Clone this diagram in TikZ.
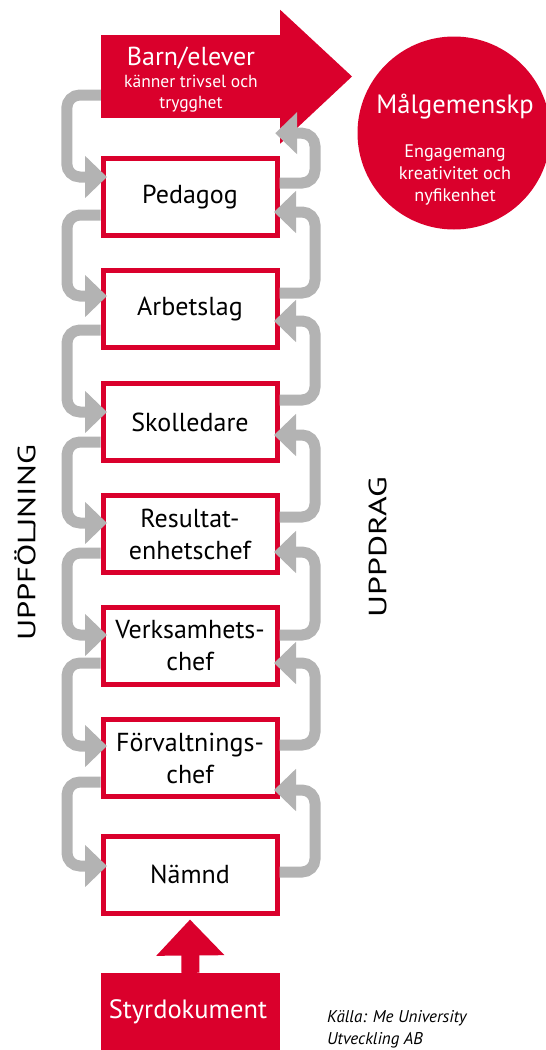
\documentclass[tikz,border=0pt]{standalone}
\usepackage{fontspec}
\setmainfont{PT Sans}
\usetikzlibrary{calc,arrows.meta}
\definecolor{kred}{RGB}{218,0,44}
\definecolor{kgray}{RGB}{179,179,179}
\tikzset{
  box/.style={draw=kred, line width=5pt, fill=white, minimum width=174pt, minimum height=77pt,
    align=center, font=\fontsize{26}{32}\selectfont, inner sep=0pt},
  conn/.style={draw=kgray, line width=11pt, rounded corners=13pt,
    -{Triangle[length=22pt,width=41pt]}},
  side/.style={rotate=90, font=\fontsize{25}{25}\selectfont, inner sep=0pt},
  wtxt/.style={text=white, anchor=base, inner sep=0pt},
}
\begin{document}
\begin{tikzpicture}[x=1pt,y=-1pt]
\useasboundingbox (0,0) rectangle (546,1050);
% top red arrow
\node[fill=kred, minimum width=179pt, minimum height=83pt, inner sep=0pt] (barn) at (190.5,76.5) {};
\fill[kred] ($(barn.north east)+(0,-25)$) -- (352,76.5) -- ($(barn.south east)+(0,25.5)$) -- cycle;
\node[wtxt, font=\fontsize{26}{26}\selectfont] (barn1) at (191,65.5) {Barn/elever};
\node[wtxt, font=\fontsize{17.5}{22}\selectfont] (barn2) at (191,87) {känner trivsel och};
\node[wtxt, font=\fontsize{17.5}{22}\selectfont] (barn3) at (191,108.5) {trygghet};
\coordinate (barnin) at ($(barn.south east)+(-5,15)$);
% circle
\node[circle, fill=kred, minimum size=193pt, inner sep=0pt] (mal) at (454,133) {};
\node[text=white, font=\fontsize{26.5}{26}\selectfont, inner sep=0pt] (maltxt) at (455,107) {Målgemenskp};
\node[text=white, align=center, font=\fontsize{18.2}{22}\selectfont, inner sep=0pt] (maltxt2) at (455,175) {Engagemang\\kreativitet och\\nyfikenhet};
% boxes
\node[box] (b1) at (190,197) {Pedagog};
\node[box] (b2) at (190,309) {Arbetslag};
\node[box] (b3) at (190,422) {Skolledare};
\node[box] (b4) at (190,534) {Resultat-\\enhetschef};
\node[box] (b5) at (190,646) {Verksamhets-\\chef};
\node[box] (b6) at (190,758) {Förvaltnings-\\chef};
\node[box] (b7) at (190,874.5) {Nämnd};
% left connectors (UPPFÖLJNING)
\draw[conn] ($(barn.west)+(0,18.5)$) -- ($(barn.west)+(-34,18.5)$) |- ($(b1.west)+(6.5,-20)$);
\draw[conn] ($(b1.west)+(0,18)$) -- ($(b1.west)+(-33.5,18)$) |- ($(b2.west)+(6.5,-13)$);
\draw[conn] ($(b2.west)+(0,21)$) -- ($(b2.west)+(-33.5,21)$) |- ($(b3.west)+(6.5,-10)$);
\draw[conn] ($(b3.west)+(0,20)$) -- ($(b3.west)+(-33.5,20)$) |- ($(b4.west)+(6.5,-11)$);
\draw[conn] ($(b4.west)+(0,19)$) -- ($(b4.west)+(-33.5,19)$) |- ($(b5.west)+(6.5,-11)$);
\draw[conn] ($(b5.west)+(0,17)$) -- ($(b5.west)+(-33.5,17)$) |- ($(b6.west)+(6.5,-12)$);
\draw[conn] ($(b6.west)+(0,24)$) -- ($(b6.west)+(-33.5,24)$) |- ($(b7.west)+(6.5,-8.5)$);
% right connectors (UPPDRAG)
\draw[conn] ($(b1.east)+(0,-14)$) -- ($(b1.east)+(35.5,-14)$) |- (barnin);
\draw[conn] ($(b2.east)+(0,-16)$) -- ($(b2.east)+(35.5,-16)$) |- ($(b1.east)+(-5.5,15)$);
\draw[conn] ($(b3.east)+(0,-22)$) -- ($(b3.east)+(35.5,-22)$) |- ($(b2.east)+(-5.5,12)$);
\draw[conn] ($(b4.east)+(0,-17)$) -- ($(b4.east)+(35.5,-17)$) |- ($(b3.east)+(-5.5,13)$);
\draw[conn] ($(b5.east)+(0,-11)$) -- ($(b5.east)+(35.5,-11)$) |- ($(b4.east)+(-5.5,18)$);
\draw[conn] ($(b6.east)+(0,-13)$) -- ($(b6.east)+(35.5,-13)$) |- ($(b5.east)+(-5.5,17)$);
\draw[conn] ($(b7.east)+(0,-2.5)$) -- ($(b7.east)+(35.5,-2.5)$) |- ($(b6.east)+(-5.5,32)$);
% bottom
\node[fill=kred, minimum width=179pt, minimum height=80pt, inner sep=0pt] (styr) at (190.5,1013) {};
\node[text=white, font=\fontsize{26.5}{26}\selectfont, inner sep=0pt] (styrtxt) at (188,1012) {Styrdokument};
\draw[kred, line width=18pt, -{Triangle[length=36pt,width=66pt]}] (styr.north) -- ($(b7.south)+(0,4)$);
% side labels
\node[side] (uppf) at (25,543) {\scalebox{1.3}[1]{UPPFÖLJNING}};
\node[side] (uppd) at (377.5,547) {\scalebox{1.35}[1]{UPPDRAG}};
% source
\node[anchor=north west, align=left, font=\itshape\fontsize{17}{22}\selectfont, inner sep=0pt] (kalla) at (327,1010) {Källa: Me University\\Utveckling AB};
\end{tikzpicture}
\end{document}
